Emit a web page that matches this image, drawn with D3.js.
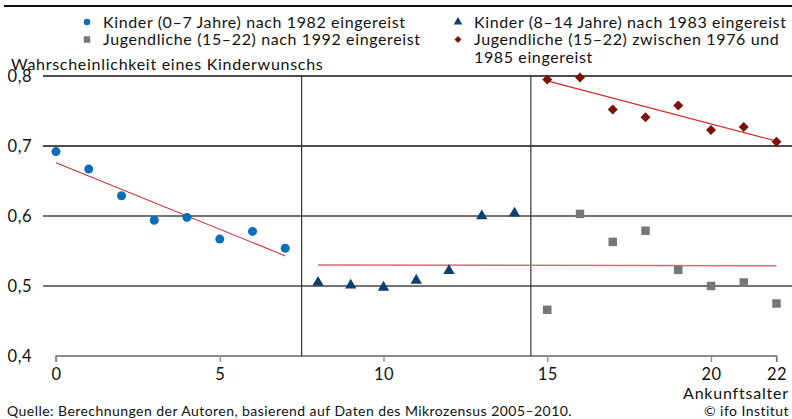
<!DOCTYPE html>
<html>
<head>
<meta charset="utf-8">
<script src="https://cdn.jsdelivr.net/npm/d3@7"></script>
<style>
  body { margin: 0; background: #fff; }
  text { font-family: Lato, "Noto Sans", sans-serif; fill: #111; }
</style>
</head>
<body>
<div class="chart"></div>
<script>
// data
var ageKids = [0, 1, 2, 3, 4, 5, 6, 7];
var kids82 = [0.692, 0.667, 0.629, 0.594, 0.598, 0.567, 0.578, 0.554];
var ageOlder = [8, 9, 10, 11, 12, 13, 14];
var kids83 = [0.505, 0.501, 0.498, 0.508, 0.522, 0.600, 0.604];
var ageYouth = [15, 16, 17, 18, 19, 20, 21, 22];
var youth92 = [0.466, 0.603, 0.563, 0.579, 0.523, 0.500, 0.505, 0.475];
var youth7685 = [0.795, 0.798, 0.752, 0.741, 0.758, 0.723, 0.727, 0.706];

// fitted trend lines (start / end)
var trendKids = [[0, 0.676], [7, 0.543]];
var trendFlat = [[8, 0.530], [22, 0.529]];
var trendYouth = [[15, 0.793], [22, 0.707]];

var xTicks = [0, 5, 10, 15, 20, 22];
var yTicks = [0.4, 0.5, 0.6, 0.7, 0.8];
var dividers = [7.5, 14.5];

var width = 792, height = 419;

var svg = d3.select(".chart").append("svg")
    .attr("width", width)
    .attr("height", height);

const xScale = d3.scaleLinear().domain([0, 22]).range([56, 776.5]);
const yScale = d3.scaleLinear().domain([0.4, 0.8]).range([356, 76]);

const fmt = d => d3.format(".1f")(d).replace(".", ",");

// top rule
svg.append("line")
    .attr("x1", 4).attr("x2", width)
    .attr("y1", 6).attr("y2", 6)
    .attr("stroke", "#111")
    .attr("stroke-width", 2.2);

// grid lines
svg.append("g")
    .selectAll("line")
    .data(yTicks.filter(d => d > 0.4))
    .enter().append("line")
    .attr("x1", 43).attr("x2", width)
    .attr("y1", d => yScale(d)).attr("y2", d => yScale(d))
    .attr("stroke", d => d >= 0.7 ? "#111" : "#444")
    .attr("stroke-width", 1.3);

// y tick labels
svg.append("g")
    .selectAll("text")
    .data(yTicks)
    .enter().append("text")
    .attr("x", 32)
    .attr("y", d => yScale(d) + 0.5)
    .attr("text-anchor", "end")
    .attr("dy", "0.32em")
    .style("font-size", "16.5px")
    .style("letter-spacing", "0.5px")
    .text(fmt);

// x axis
const xAxis = d3.axisBottom(xScale)
    .tickValues(xTicks)
    .tickSize(6)
    .tickPadding(6)
    .tickFormat(d3.format("d"));

const xAxisGroup = svg.append("g")
    .attr("transform", `translate(0, ${yScale(0.4)})`)
    .call(xAxis);
xAxisGroup.select(".domain").attr("stroke", "#666").attr("stroke-width", 1.3)
    .attr("d", `M${xScale(0)},6V0H${xScale(22)}V6`);
xAxisGroup.selectAll(".tick line").attr("stroke", "#888").attr("stroke-width", 1.3);
xAxisGroup.selectAll(".tick text")
    .style("font-family", "Lato, 'Noto Sans', sans-serif")
    .style("font-size", "16.5px")
    .style("letter-spacing", "0.5px")
    .attr("fill", "#111");

// group dividers
svg.append("g")
    .selectAll("line")
    .data(dividers)
    .enter().append("line")
    .attr("x1", d => xScale(d)).attr("x2", d => xScale(d))
    .attr("y1", yScale(0.8)).attr("y2", yScale(0.4))
    .attr("stroke", "#333")
    .attr("stroke-width", 1.2);

// trend lines
const line = d3.line()
    .x(d => xScale(d[0]))
    .y(d => yScale(d[1]));

svg.append("path").datum(trendKids)
    .attr("fill", "none").attr("stroke", "#d42a2a").attr("stroke-width", 1.1)
    .attr("d", line);
svg.append("path").datum(trendFlat)
    .attr("fill", "none").attr("stroke", "#d27070").attr("stroke-width", 1.4)
    .attr("d", line);
svg.append("path").datum(trendYouth)
    .attr("fill", "none").attr("stroke", "#d42a2a").attr("stroke-width", 1.1)
    .attr("d", line);

// markers
function pairs(xs, ys) { return xs.map((x, i) => [x, ys[i]]); }

const circleSym = d3.symbol().type(d3.symbolCircle).size(64);
const triSym = d3.symbol().type(d3.symbolTriangle).size(56);
const sqSym = d3.symbol().type(d3.symbolSquare).size(72);
const diaSym = d3.symbol().type(d3.symbolSquare).size(50);

var seriesList = [
    {data: pairs(ageKids, kids82), sym: circleSym, color: "#0a6eb8", rot: 0},
    {data: pairs(ageOlder, kids83), sym: triSym, color: "#0c3f70", rot: 0},
    {data: pairs(ageYouth, youth92), sym: sqSym, color: "#777777", rot: 0},
    {data: pairs(ageYouth, youth7685), sym: diaSym, color: "#7b110a", rot: 45}
];

seriesList.forEach(function(s) {
    svg.append("g")
        .selectAll("path")
        .data(s.data)
        .enter().append("path")
        .attr("transform", d => `translate(${xScale(d[0])},${yScale(d[1])}) rotate(${s.rot})`)
        .attr("d", s.sym)
        .attr("fill", s.color);
});

// legend
var legendItems = [
    {x: 87, y: 22, sym: d3.symbol().type(d3.symbolCircle).size(34), rot: 0, color: "#0a6eb8",
        lines: ["Kinder (0–7 Jahre) nach 1982 eingereist"]},
    {x: 87, y: 39.5, sym: d3.symbol().type(d3.symbolSquare).size(42), rot: 0, color: "#777777",
        lines: ["Jugendliche (15–22) nach 1992 eingereist"]},
    {x: 458, y: 22, sym: d3.symbol().type(d3.symbolTriangle).size(32), rot: 0, color: "#0c3f70",
        lines: ["Kinder (8–14 Jahre) nach 1983 eingereist"]},
    {x: 458, y: 39.5, sym: d3.symbol().type(d3.symbolSquare).size(24), rot: 45, color: "#7b110a",
        lines: ["Jugendliche (15–22) zwischen 1976 und", "1985 eingereist"]}
];

legendItems.forEach(function(it) {
    svg.append("path")
        .attr("transform", `translate(${it.x},${it.y}) rotate(${it.rot})`)
        .attr("d", it.sym)
        .attr("fill", it.color);
    it.lines.forEach(function(t, i) {
        svg.append("text")
            .attr("x", it.x + 16)
            .attr("y", it.y + i * 17.5)
            .attr("dy", "0.35em")
            .style("font-size", "16px")
            .style("letter-spacing", "0.62px")
            .text(t);
    });
});

// axis titles
svg.append("text")
    .attr("x", 11).attr("y", 70)
    .style("font-size", "16px")
    .style("letter-spacing", "0.72px")
    .text("Wahrscheinlichkeit eines Kinderwunschs");

svg.append("text")
    .attr("x", 789).attr("y", 393)
    .attr("dy", "0.35em")
    .attr("text-anchor", "end")
    .style("font-size", "16px")
    .style("letter-spacing", "0.8px")
    .text("Ankunftsalter");

// source line
svg.append("text")
    .attr("x", 7).attr("y", 411)
    .attr("dy", "0.35em")
    .style("font-size", "14px")
    .style("letter-spacing", "0.45px")
    .text("Quelle: Berechnungen der Autoren, basierend auf Daten des Mikrozensus 2005–2010.");

svg.append("text")
    .attr("x", 789).attr("y", 411)
    .attr("dy", "0.35em")
    .attr("text-anchor", "end")
    .style("font-size", "14px")
    .style("letter-spacing", "0.45px")
    .text("© ifo Institut");
</script>
</body>
</html>
